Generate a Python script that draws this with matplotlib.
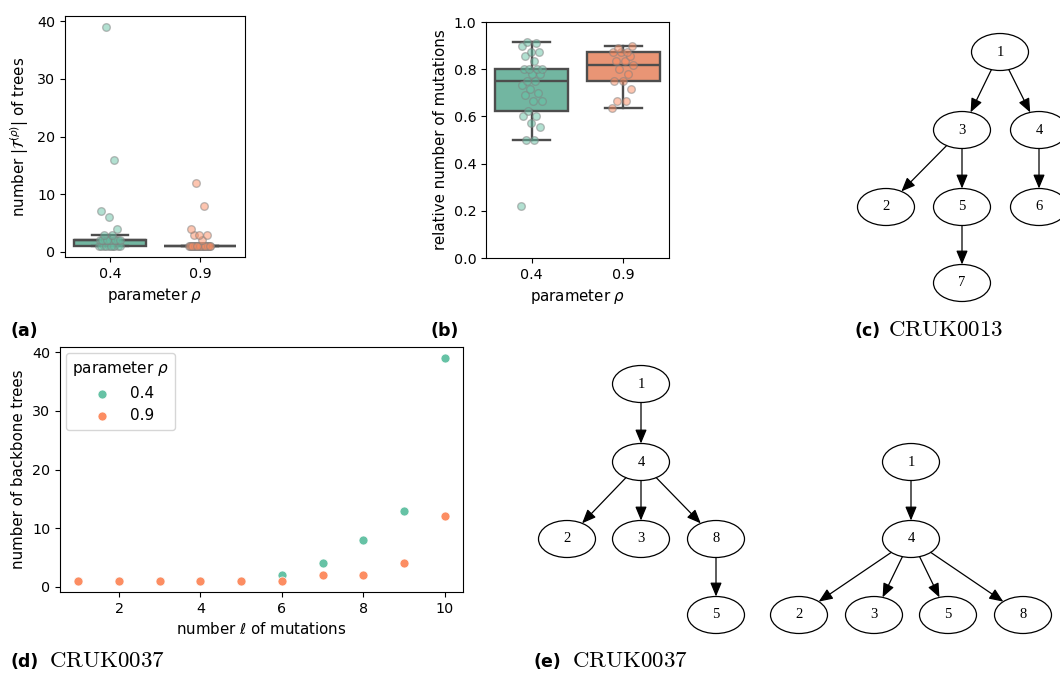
import numpy as np
import matplotlib
matplotlib.use('Agg')
import matplotlib.pyplot as plt
from matplotlib.patches import Ellipse

# -----------------------------------------------------------------------
# Data
# -----------------------------------------------------------------------
RHO_LABELS = ['0.4', '0.9']

# (a) number of trees per patient
N_TREES_04 = [1] * 10 + [2] * 12 + [3, 3, 4, 6, 7, 16, 39]
N_TREES_09 = [1] * 22 + [2, 3, 3, 3, 4, 8, 12]

# (b) relative number of mutations per patient
REL_MUT_04 = [0.222, 0.5, 0.5, 0.556, 0.571, 0.6, 0.6, 0.625, 0.667, 0.667,
              0.692, 0.7, 0.714, 0.733, 0.75, 0.75, 0.778, 0.778, 0.8, 0.8,
              0.8, 0.8, 0.833, 0.857, 0.875, 0.875, 0.9, 0.909, 0.917]
REL_MUT_09 = [0.636, 0.667, 0.667, 0.714, 0.75, 0.75, 0.778, 0.8, 0.818,
              0.833, 0.833, 0.857, 0.875, 0.875, 0.875, 0.889, 0.9]

# (d) backbone trees vs number of mutations (CRUK0037)
N_MUT = [1, 2, 3, 4, 5, 6, 7, 8, 9, 10]
BACKBONE_04 = [1, 1, 1, 1, 1, 2, 4, 8, 13, 39]
BACKBONE_09 = [1, 1, 1, 1, 1, 1, 2, 2, 4, 12]

# trees (parent, child)
TREE_C_EDGES = [(1, 3), (1, 4), (3, 2), (3, 5), (4, 6), (5, 7)]
TREE_E1_EDGES = [(1, 4), (4, 2), (4, 3), (4, 8), (8, 5)]
TREE_E2_EDGES = [(1, 4), (4, 2), (4, 3), (4, 5), (4, 8)]

# graph layout in figure pixels (dot style)
LAYOUT_C = {1: (1000, 52), 3: (962, 130), 4: (1039, 130), 2: (886, 207),
            5: (962, 207), 6: (1039, 207), 7: (962, 283)}
LAYOUT_E1 = {1: (641, 384), 4: (641, 462), 2: (567, 539), 3: (641, 539),
             8: (716, 539), 5: (716, 615)}
LAYOUT_E2 = {1: (911, 462), 4: (911, 539), 2: (799, 615), 3: (874, 615),
             5: (948, 615), 8: (1023, 615)}

GREEN = '#66c2a5'
ORANGE = '#fc8d62'
BOX_GREEN = '#72b6a1'
BOX_ORANGE = '#e99575'
LINE_GRAY = '#4d4d4d'

W, H = 1060, 673
plt.rcParams['font.size'] = 10.3
plt.rcParams['axes.labelsize'] = 10.8


def px_axes(fig, left, top, right, bottom):
    return fig.add_axes([left / W, 1 - bottom / H, (right - left) / W, (bottom - top) / H])


def jitter(n, width=0.12):
    return width * (((np.arange(n) * 0.618034) % 1) * 2 - 1)


def box_strip(ax, groups):
    bp = ax.boxplot(groups, positions=[0, 1], widths=0.8, patch_artist=True,
                    showfliers=False, whis=1.5, capwidths=0.4,
                    boxprops=dict(edgecolor=LINE_GRAY, linewidth=1.7),
                    whiskerprops=dict(color=LINE_GRAY, linewidth=1.7),
                    capprops=dict(color=LINE_GRAY, linewidth=1.7),
                    medianprops=dict(color=LINE_GRAY, linewidth=1.7))
    for patch, c in zip(bp['boxes'], [BOX_GREEN, BOX_ORANGE]):
        patch.set_facecolor(c)
    for i, (vals, c) in enumerate(zip(groups, [GREEN, ORANGE])):
        ax.plot(i + jitter(len(vals)), vals, 'o', ms=5.5, mfc=c, mec='gray',
                mew=1, alpha=0.5, zorder=3, ls='none')
    ax.set_xticks([0, 1], RHO_LABELS)
    ax.set_xlim(-0.5, 1.5)
    ax.set_xlabel(r'parameter $\rho$')


def draw_tree(ax, edges, layout, w=57, h=37):
    for node, (x, y) in layout.items():
        ax.add_patch(Ellipse((x, y), w, h, fc='white', ec='black', lw=0.9))
        ax.text(x, y, str(node), ha='center', va='center', fontsize=10.5,
                family='Liberation Serif')
    for p, c in edges:
        (x0, y0), (x1, y1) = layout[p], layout[c]
        dx, dy = x1 - x0, y1 - y0
        s = 1 / np.sqrt((dx / (w / 2)) ** 2 + (dy / (h / 2)) ** 2)
        ax.annotate('', xy=(x1 - dx * s, y1 - dy * s), xytext=(x0 + dx * s, y0 + dy * s),
                    arrowprops=dict(arrowstyle='-|>,head_length=0.6,head_width=0.25',
                                    color='black', lw=0.9, shrinkA=0, shrinkB=0,
                                    mutation_scale=14))


def panel_label(fig, x, y, tag, name=None, dx=33):
    fig.text(x / W, 1 - y / H, tag, fontsize=12.5, fontweight='bold', va='baseline')
    if name:
        fig.text((x + dx) / W, 1 - y / H, r'$\mathrm{' + name + '}$', fontsize=16.5,
                 math_fontfamily='cm', va='baseline')


fig = plt.figure(figsize=(W / 100, H / 100), dpi=100)

# (a)
ax = px_axes(fig, 65, 16, 245, 257)
box_strip(ax, [N_TREES_04, N_TREES_09])
ax.set_ylabel(r'number $|\mathcal{T}^{(\rho)}|$ of trees')
ax.set_yticks([0, 10, 20, 30, 40])

# (b)
ax = px_axes(fig, 486, 22, 669, 258)
box_strip(ax, [REL_MUT_04, REL_MUT_09])
ax.set_ylim(0, 1)
ax.set_yticks(np.arange(0, 1.01, 0.2))
ax.set_ylabel('relative number of mutations')

# (d)
ax = px_axes(fig, 60, 347, 463, 592)
ax.scatter(N_MUT, BACKBONE_04, s=42, color=GREEN, edgecolor='white', lw=0.5, label='0.4')
ax.scatter(N_MUT, BACKBONE_09, s=42, color=ORANGE, edgecolor='white', lw=0.5, label='0.9')
ax.set_xticks([2, 4, 6, 8, 10])
ax.set_yticks([0, 10, 20, 30, 40])
ax.set_xlabel(r'number $\ell$ of mutations')
ax.set_ylabel('number of backbone trees')
ax.legend(title=r'parameter $\rho$', loc='upper left', fontsize=11, title_fontsize=11,
          borderaxespad=0.4)

# trees (c), (e)
tree_ax = fig.add_axes([0, 0, 1, 1])
tree_ax.set_xlim(0, W)
tree_ax.set_ylim(H, 0)
tree_ax.axis('off')
draw_tree(tree_ax, TREE_C_EDGES, LAYOUT_C)
draw_tree(tree_ax, TREE_E1_EDGES, LAYOUT_E1)
draw_tree(tree_ax, TREE_E2_EDGES, LAYOUT_E2)

panel_label(fig, 10, 336, '(a)')
panel_label(fig, 430, 336, '(b)')
panel_label(fig, 855, 336, '(c)', 'CRUK0013', dx=33)
panel_label(fig, 10, 667, '(d)', 'CRUK0037', dx=39)
panel_label(fig, 533, 667, '(e)', 'CRUK0037', dx=39)

fig.savefig('out.png', dpi=100)
